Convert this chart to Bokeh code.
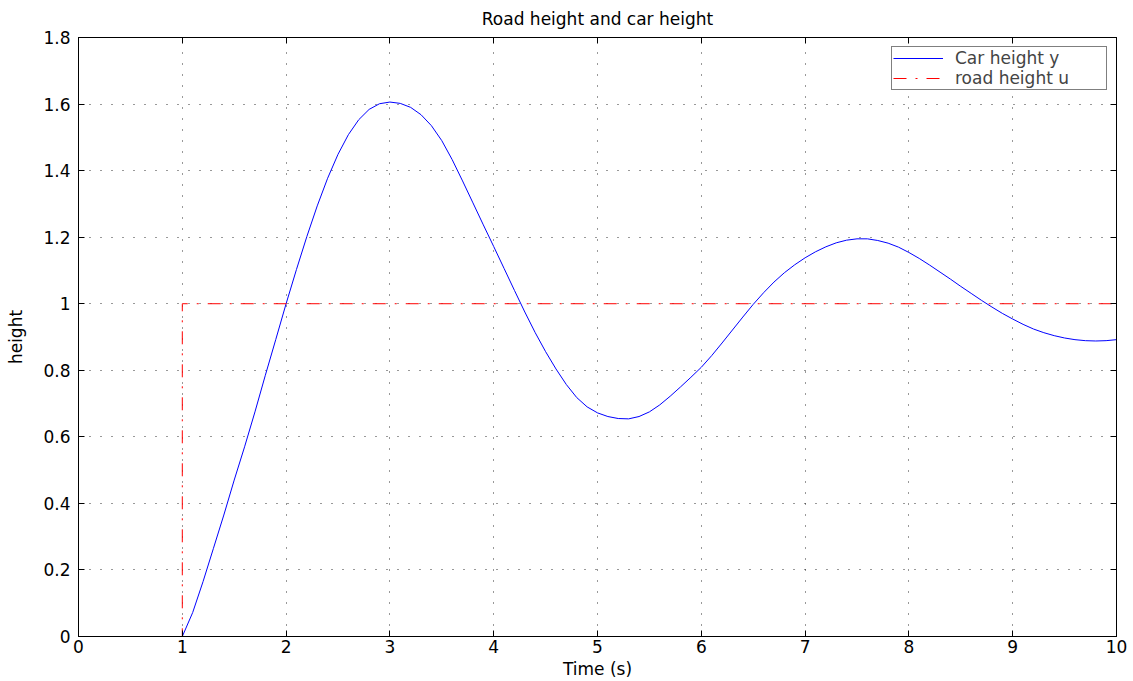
import numpy as np
from bokeh.plotting import figure
from bokeh.models import (Range1d, FixedTicker, LinearAxis, CustomJSTickFormatter, Legend,
                          LegendItem, CustomLabelingPolicy)
from bokeh.embed import file_html
from bokeh.resources import INLINE

# ---- data ----
car_time_pre = [0.0]
car_height_pre = [0.0]
car_time_step = 0.1  # sampling of the read-off curve, from t = 1.0 to 10.0
car_height = [
    0.000, 0.072, 0.165, 0.265, 0.365, 0.470, 0.570, 0.675, 0.785, 0.892,   # 1.0 - 1.9
    1.000, 1.103, 1.202, 1.294, 1.377, 1.449, 1.508, 1.553, 1.584, 1.601,   # 2.0 - 2.9
    1.606, 1.602, 1.590, 1.568, 1.535, 1.490, 1.433, 1.369, 1.303, 1.237,   # 3.0 - 3.9
    1.172, 1.106, 1.040, 0.975, 0.913, 0.856, 0.804, 0.757, 0.718, 0.690,   # 4.0 - 4.9
    0.672, 0.661, 0.655, 0.654, 0.661, 0.675, 0.696, 0.722, 0.750, 0.779,   # 5.0 - 5.9
    0.809, 0.844, 0.882, 0.921, 0.960, 0.998, 1.033, 1.065, 1.093, 1.117,   # 6.0 - 6.9
    1.138, 1.156, 1.171, 1.183, 1.191, 1.195, 1.195, 1.190, 1.182, 1.170,   # 7.0 - 7.9
    1.154, 1.136, 1.116, 1.095, 1.074, 1.052, 1.031, 1.010, 0.990, 0.971,   # 8.0 - 8.9
    0.954, 0.938, 0.924, 0.913, 0.904, 0.897, 0.892, 0.889, 0.888, 0.889,   # 9.0 - 9.9
    0.892,                                                                  # 10.0
]
road_time = [0, 1, 1, 10]
road_height = [0, 0, 1, 1]

x_ticks = [0, 1, 2, 3, 4, 5, 6, 7, 8, 9, 10]
y_ticks = [0, 0.2, 0.4, 0.6, 0.8, 1.0, 1.2, 1.4, 1.6, 1.8]

title_text = "Road height and car height"
x_label = "Time (s)"
y_label = "height"
legend_labels = ["Car height y", "road height u"]

car_time = car_time_pre + [round(1.0 + i * car_time_step, 2) for i in range(len(car_height))]
car_vals = car_height_pre + car_height

FONT = "DejaVu Sans"

p = figure(width=1133, height=681, output_backend="svg", toolbar_location=None,
           x_range=Range1d(0, 10), y_range=Range1d(0, 1.8),
           min_border_left=78, min_border_right=17, min_border_top=37, min_border_bottom=45)

p.title.text = title_text
p.title.align = "center"
p.title.text_font = FONT
p.title.text_font_size = "17px"
p.title.text_font_style = "normal"
p.title.text_color = "black"
p.title.standoff = 10

p.background_fill_color = "white"
p.border_fill_color = "white"
p.outline_line_color = "black"
p.outline_line_width = 1

# grid
for g in (p.xgrid, p.ygrid):
    g.grid_line_color = "black"
    g.grid_line_alpha = 0.8
    g.grid_line_dash = "1 10"
    g.grid_line_width = 1
p.xgrid.ticker = FixedTicker(ticks=x_ticks)
p.ygrid.ticker = FixedTicker(ticks=y_ticks)

fmt = CustomJSTickFormatter(code="var s = tick.toFixed(1); return s.endsWith('.0') ? s.slice(0, -2) : s;")

def style_axis(ax, ticks, show_labels=True):
    ax.ticker = FixedTicker(ticks=ticks)
    ax.formatter = fmt
    ax.axis_line_color = "black"
    ax.major_tick_line_color = "black"
    ax.major_tick_in = 6
    ax.major_tick_out = 0
    ax.minor_tick_line_color = None
    ax.major_label_text_font = FONT
    ax.major_label_text_font_size = "17px"
    ax.major_label_text_color = "black"
    ax.axis_label_text_font = FONT
    ax.axis_label_text_font_size = "17px"
    ax.axis_label_text_font_style = "normal"
    ax.axis_label_text_color = "black"
    if not show_labels:
        ax.major_label_text_font_size = "1px"
        ax.major_label_policy = CustomLabelingPolicy(code="return []")
        ax.major_label_standoff = 0

xa = p.xaxis[0]
style_axis(xa, x_ticks)
xa.axis_label = x_label
xa.major_label_standoff = 3
xa.axis_label_standoff = 3

ya = p.yaxis[0]
style_axis(ya, y_ticks)
ya.axis_label = y_label
ya.major_label_standoff = 8
ya.axis_label_standoff = 14

top_ax = LinearAxis()
style_axis(top_ax, x_ticks, show_labels=False)
right_ax = LinearAxis()
style_axis(right_ax, y_ticks, show_labels=False)
p.add_layout(top_ax, "above")
p.add_layout(right_ax, "right")

r_car = p.line(car_time, car_vals, line_color="#0000ff", line_width=1)
r_road = p.line(road_time, road_height, line_color="#ff0000", line_width=1, line_dash="13 9 2 9")

legend = Legend(items=[LegendItem(label=legend_labels[0], renderers=[r_car]),
                       LegendItem(label=legend_labels[1], renderers=[r_road])],
                location="top_right")
legend.margin = 9
legend.padding = 1
legend.spacing = 0
legend.label_text_font = FONT
legend.label_text_font_size = "17px"
legend.label_height = 16
legend.glyph_height = 16
legend.glyph_width = 50
legend.label_standoff = 12
legend.label_width = 150
legend.border_line_color = "black"
legend.border_line_width = 1
legend.background_fill_alpha = 1
p.add_layout(legend, "center")

open("out.html", "w").write(file_html(p, INLINE))
